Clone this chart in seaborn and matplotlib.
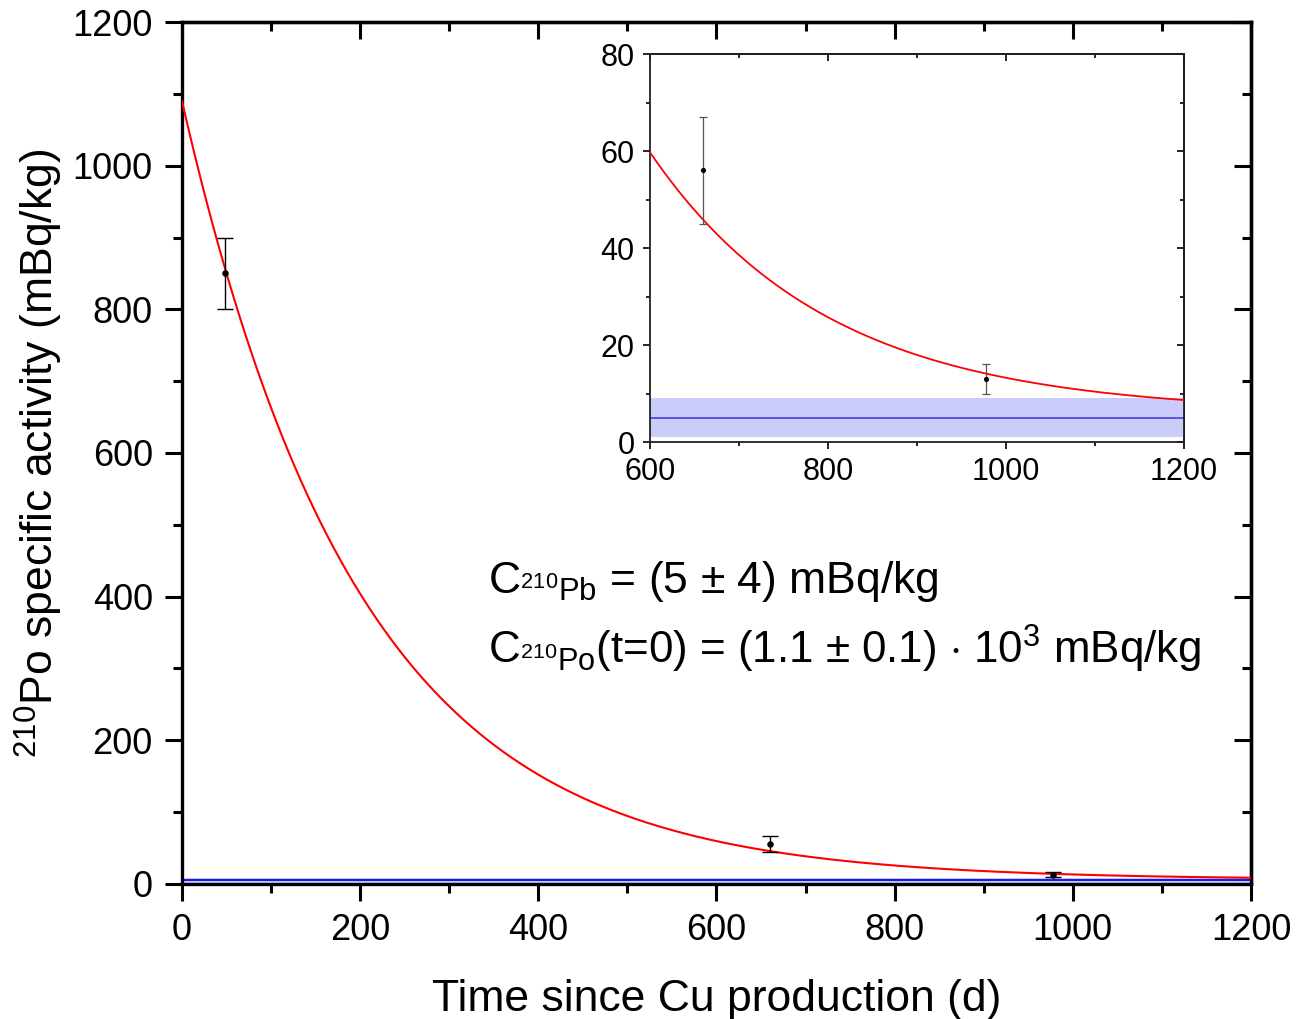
import numpy as np
import pandas as pd
import matplotlib
matplotlib.use("Agg")
import matplotlib.pyplot as plt
import seaborn as sns

# ---- data ----
time_days = [48, 660, 978]
activity = [850, 56, 13]
activity_err = [50, 11, 3]

# fit result shown in the chart
pb_level = 5          # C_210Pb (blue line)
pb_err = 4            # band half-width
curve_baseline = 6    # asymptote of the red fit curve
po_initial = 1090     # curve value at t = 0
po_half_life = 138.4  # days

main_ticks = [0, 200, 400, 600, 800, 1000, 1200]
inset_xticks = [600, 800, 1000, 1200]
inset_yticks = [0, 20, 40, 60, 80]

sns.set_theme(style="ticks")
plt.rcParams["font.family"] = ["Liberation Sans", "DejaVu Sans"]
plt.rcParams["mathtext.fontset"] = "custom"
plt.rcParams["mathtext.rm"] = "Liberation Sans"
plt.rcParams["mathtext.it"] = "Liberation Sans:italic"
plt.rcParams["mathtext.bf"] = "Liberation Sans:bold"
for k in ["text.color", "axes.labelcolor", "xtick.color", "ytick.color",
          "xtick.labelcolor", "ytick.labelcolor", "axes.edgecolor"]:
    plt.rcParams[k] = "black"

t_fit = np.linspace(0, 1200, 1201)
lam = np.log(2) / po_half_life
fit = pd.DataFrame({
    "t": t_fit,
    "A": curve_baseline + (po_initial - curve_baseline) * np.exp(-lam * t_fit),
})
pts = pd.DataFrame({"t": time_days, "A": activity, "err": activity_err})

fig = plt.figure(figsize=(12.97, 10.19), dpi=100)
ax = fig.add_axes([0.1403, 0.1325, 0.8242, 0.8459])


def draw(a, err_color, err_lw, cap, ms, lw_curve, lw_blue, blue):
    a.axhspan(pb_level - pb_err, pb_level + pb_err, color="#ccccfa", lw=0, zorder=1)
    a.axhline(pb_level, color=blue, lw=lw_blue, zorder=2)
    sns.lineplot(data=fit, x="t", y="A", ax=a, color="red", lw=lw_curve, zorder=3)
    a.errorbar(pts["t"], pts["A"], yerr=pts["err"], fmt="none", ecolor=err_color,
               elinewidth=err_lw, capsize=cap, capthick=err_lw, zorder=4)
    sns.scatterplot(data=pts, x="t", y="A", ax=a, color="black", s=ms,
                    edgecolor="black", linewidth=0, zorder=5)


draw(ax, "black", 1.0, 6, 22, 1.5, 1.5, "#1a1aee")
ax.set_xlim(0, 1200)
ax.set_ylim(0, 1200)
ax.set_xticks(main_ticks)
ax.set_yticks(main_ticks)
ax.set_xticks(np.arange(100, 1200, 200), minor=True)
ax.set_yticks(np.arange(100, 1200, 200), minor=True)
ax.tick_params(axis="both", which="major", direction="out", length=12, width=2.2,
               labelsize=26, pad=9)
ax.tick_params(axis="both", which="minor", direction="out", length=6.5, width=2.2)
for s in ax.spines.values():
    s.set_linewidth(2.4)
    s.set_visible(True)
ax.set_xlabel("Time since Cu production (d)", fontsize=32, labelpad=22)
ax.set_ylabel(r"$^{210}$Po specific activity (mBq/kg)", fontsize=32, labelpad=5)

topx = ax.secondary_xaxis("top")
topx.set_xticks(main_ticks)
topx.set_xticks(np.arange(100, 1200, 200), minor=True)
topx.tick_params(which="major", direction="in", length=12, width=2.2, labeltop=False)
topx.tick_params(which="minor", direction="in", length=6.5, width=2.2)
topx.spines["top"].set_linewidth(2.4)
righty = ax.secondary_yaxis("right")
righty.set_yticks(main_ticks)
righty.set_yticks(np.arange(100, 1200, 200), minor=True)
righty.tick_params(which="major", direction="in", length=12, width=2.2, labelright=False)
righty.tick_params(which="minor", direction="in", length=6.5, width=2.2)
righty.spines["right"].set_linewidth(2.4)

fig.text(0.376, 0.418, r"C$_{^{210}\mathrm{Pb}}$ = (5 $\pm$ 4) mBq/kg",
         fontsize=32, va="baseline", ha="left")
fig.text(0.376, 0.349,
         r"C$_{^{210}\mathrm{Po}}$(t=0) = (1.1 $\pm$ 0.1) $\cdot$ 10$^{3}$ mBq/kg",
         fontsize=31.6, va="baseline", ha="left")

# inset
ins = fig.add_axes([0.5012, 0.5662, 0.4117, 0.3808])
draw(ins, "#555555", 0.9, 3, 14, 1.3, 1.2, "#4040e0")
ins.set_xlim(600, 1200)
ins.set_ylim(0, 80)
ins.set_xticks(inset_xticks)
ins.set_yticks(inset_yticks)
ins.set_xticks([700, 900, 1100], minor=True)
ins.set_yticks([10, 30, 50, 70], minor=True)
ins.tick_params(axis="both", which="major", direction="out", length=5, width=1.2,
                labelsize=22)
ins.tick_params(axis="x", which="major", pad=6)
ins.tick_params(axis="y", which="major", pad=6)
ins.tick_params(axis="both", which="minor", direction="out", length=3, width=1.2)
for s in ins.spines.values():
    s.set_linewidth(1.3)
    s.set_color("#222222")
    s.set_visible(True)
ins.set_xlabel("")
ins.set_ylabel("")
itop = ins.secondary_xaxis("top")
itop.set_xticks(inset_xticks)
itop.set_xticks([700, 900, 1100], minor=True)
itop.tick_params(which="major", direction="in", length=5, width=1.2, labeltop=False)
itop.tick_params(which="minor", direction="in", length=3, width=1.2)
itop.spines["top"].set_linewidth(1.3)
iright = ins.secondary_yaxis("right")
iright.set_yticks(inset_yticks)
iright.set_yticks([10, 30, 50, 70], minor=True)
iright.tick_params(which="major", direction="in", length=5, width=1.2, labelright=False)
iright.tick_params(which="minor", direction="in", length=3, width=1.2)
iright.spines["right"].set_linewidth(1.3)

fig.savefig("out.png", dpi=100, facecolor="white")
